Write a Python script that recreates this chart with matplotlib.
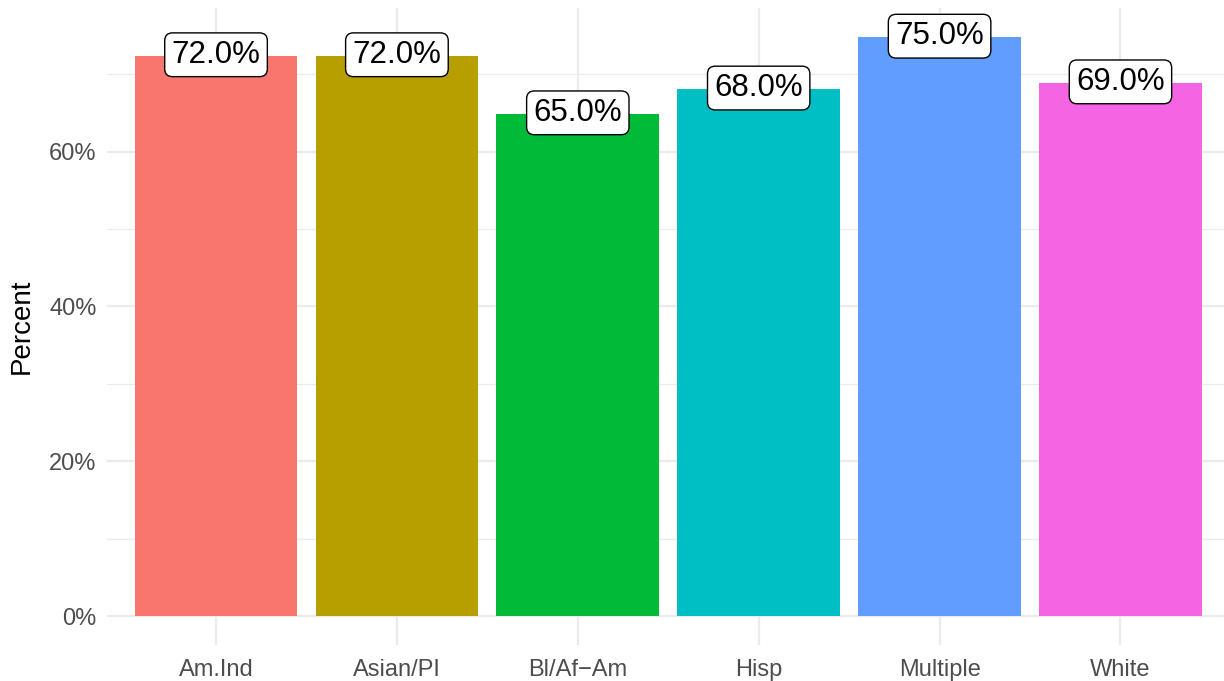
import matplotlib
matplotlib.use("Agg")
import matplotlib.pyplot as plt
from matplotlib.ticker import FixedLocator, FuncFormatter

categories = ["Am.Ind", "Asian/PI", "Bl/Af\u2212Am", "Hisp", "Multiple", "White"]
values = [72.4, 72.4, 64.9, 68.1, 74.8, 68.9]
labels = ["72.0%", "72.0%", "65.0%", "68.0%", "75.0%", "69.0%"]
colors = ["#F8766D", "#B79F00", "#00BA38", "#00BFC4", "#619CFF", "#F564E3"]
yticks = [0, 20, 40, 60]
yminor = [10, 30, 50, 70]

plt.rcParams['font.family'] = ['Liberation Sans', 'DejaVu Sans']

fig = plt.figure(figsize=(12.24, 6.81), dpi=100)
ax = fig.add_axes([107.5/1224, 1 - 645/681, (1229-107.5)/1224, (645-8)/681])

x = list(range(1, len(categories) + 1))
ax.bar(x, values, width=0.9, color=colors, zorder=2)
for xi, v, lab in zip(x, values, labels):
    ax.text(xi, v + 0.1, lab, ha="center", va="center", fontsize=22.5, color="black", zorder=3,
            bbox=dict(boxstyle="round,pad=0.22,rounding_size=0.25", fc="white", ec="black", lw=1.0))

top = max(values) * 1.05
ax.set_xlim(0.4, len(categories) + 0.6)
ax.set_ylim(-max(values) * 0.05, top)
ax.set_xticks(x)
ax.set_xticklabels(categories)
ax.yaxis.set_major_locator(FixedLocator(yticks))
ax.yaxis.set_minor_locator(FixedLocator(yminor))
ax.yaxis.set_major_formatter(FuncFormatter(lambda v, p: f"{v:.0f}%"))

ax.grid(True, which="major", axis="both", color="#EBEBEB", lw=1.6, zorder=0)
ax.grid(True, which="minor", axis="y", color="#EBEBEB", lw=0.9, zorder=0)
ax.set_axisbelow(True)
for s in ax.spines.values():
    s.set_visible(False)
ax.tick_params(axis="both", which="both", length=0, labelsize=17, colors="#4D4D4D")
ax.tick_params(axis="x", pad=10)
ax.tick_params(axis="y", pad=8)
ax.set_ylabel("Percent", fontsize=20, color="black", labelpad=10)

fig.savefig("out.png", dpi=100, facecolor="white")
